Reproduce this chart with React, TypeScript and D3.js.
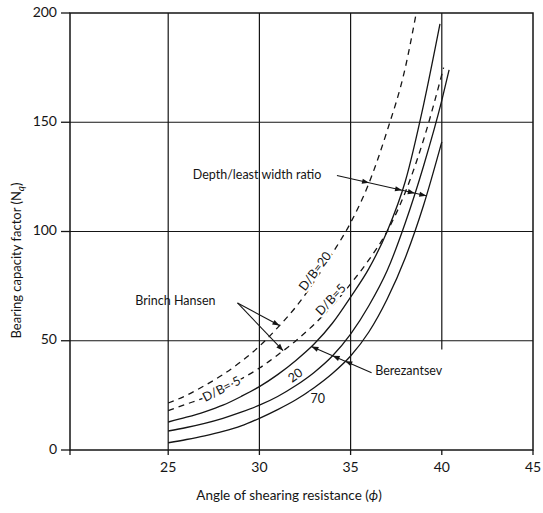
import React from 'react';
import * as d3 from 'd3';

const W = 543;
const H = 513;
const FONT = 'Lato, "Open Sans", "DejaVu Sans", sans-serif';
const INK = '#151515';

// axis ticks
const xTicks = [25, 30, 35, 40, 45];
const yTicks = [0, 50, 100, 150, 200];
const xGrid = [25, 30, 35, 40];
const xGridFrom = [0, 0, 0, 46]; // the 40 line stops short in the original
const yGrid = [50, 100, 150];

// Brinch Hansen (dashed)
const phiBH20 = [25, 26, 27, 28, 29, 30, 31, 32, 33, 34, 35, 36, 37, 38, 38.6];
const nqBH20 = [21.5, 25, 29.5, 34.5, 40.5, 47.5, 56, 65.5, 77, 90, 104, 122, 146, 175, 200];
const phiBH5 = [25, 26, 27, 28, 29, 30, 31, 32, 33, 34, 35, 36, 37, 38, 39, 40.1];
const nqBH5 = [18, 21, 24, 28, 32.5, 37.5, 43.5, 50, 57.5, 66, 76, 87, 100, 118, 142, 175];

// Berezantsev (solid)
const phiB5 = [25, 26, 27, 28, 29, 30, 31, 32, 33, 34, 35, 36, 37, 38, 39, 39.9];
const nqB5 = [12.8, 15, 17.5, 20.5, 24.5, 29, 34.5, 41, 48.5, 58, 70, 83, 100, 123, 158, 195];
const phiB20 = [25, 26, 27, 28, 29, 30, 31, 32, 33, 34, 35, 36, 37, 38, 39, 40, 40.4];
const nqB20 = [8.7, 10.3, 12.2, 14.5, 17.3, 20.5, 24.5, 29.5, 35.5, 43, 53, 66, 82, 104, 130, 160, 174];
const phiB70 = [25, 26, 27, 28, 29, 30, 31, 32, 33, 34, 35, 36, 37, 38, 39, 40];
const nqB70 = [3.3, 4.8, 6.5, 8.5, 11, 14.5, 18.5, 23, 28.5, 35, 43, 54, 69, 88, 112, 141];

const curves = {
  bh20: { xs: phiBH20, ys: nqBH20, dashed: true },
  bh5: { xs: phiBH5, ys: nqBH5, dashed: true },
  b5: { xs: phiB5, ys: nqB5, dashed: false },
  b20: { xs: phiB20, ys: nqB20, dashed: false },
  b70: { xs: phiB70, ys: nqB70, dashed: false },
};

const frameLeft = 70;
const x = d3.scaleLinear().domain([20, 45]).range([77, 533]);
const y = d3.scaleLinear().domain([0, 200]).range([450, 13]);

function valueAt(xs: number[], ys: number[], v: number) {
  if (v < xs[0] || v > xs[xs.length - 1]) return null;
  for (let i = 1; i < xs.length; i++) {
    if (v <= xs[i]) {
      const t = (v - xs[i - 1]) / (xs[i] - xs[i - 1]);
      return ys[i - 1] + t * (ys[i] - ys[i - 1]);
    }
  }
  return null;
}

// where the straight leader from a to b crosses a curve (pixel coords)
function crossing(a: number[], b: number[], c: { xs: number[]; ys: number[] }) {
  const n = 400;
  let prev: number | null = null;
  let prevT = 0;
  for (let i = 0; i <= n; i++) {
    const t = i / n;
    const px = a[0] + t * (b[0] - a[0]);
    const pv = a[1] + t * (b[1] - a[1]);
    const cv = valueAt(c.xs, c.ys, px);
    if (cv == null) { prev = null; continue; }
    const f = pv - cv;
    if (prev != null && Math.sign(f) !== Math.sign(prev)) {
      const tt = prevT + (t - prevT) * (prev / (prev - f));
      return [x(a[0] + tt * (b[0] - a[0])), y(a[1] + tt * (b[1] - a[1]))];
    }
    prev = f;
    prevT = t;
  }
  return null;
}

const Arrowhead = ({ tip, from }: { tip: number[]; from: number[] }) => {
  const ang = Math.atan2(tip[1] - from[1], tip[0] - from[0]);
  const len = 7, half = 2.6;
  const bx = tip[0] - len * Math.cos(ang);
  const by = tip[1] - len * Math.sin(ang);
  const px = -Math.sin(ang) * half;
  const py = Math.cos(ang) * half;
  return (
    <path
      d={`M${tip[0]},${tip[1]}L${bx + px},${by + py}L${bx - px},${by - py}Z`}
      fill={INK}
    />
  );
};

// leader with arrowheads on each curve it crosses
const Leader = ({ start, toward, hits }: { start: number[]; toward: number[]; hits: any[] }) => {
  const s = [x(start[0]), y(start[1])];
  const pts = hits.map(c => crossing(start, toward, c)).filter(Boolean) as number[][];
  const last = pts.reduce(
    (m, p) => (Math.hypot(p[0] - s[0], p[1] - s[1]) > Math.hypot(m[0] - s[0], m[1] - s[1]) ? p : m),
    s
  );
  return (
    <g>
      <line x1={s[0]} y1={s[1]} x2={last[0]} y2={last[1]} stroke={INK} strokeWidth={1.1} />
      {pts.map((p, i) => <Arrowhead key={i} tip={p} from={s} />)}
    </g>
  );
};

const Pointer = ({ start, tipX, curve }: { start: number[]; tipX: number; curve: any }) => {
  const s = [x(start[0]), y(start[1])];
  const tip = [x(tipX), y(valueAt(curve.xs, curve.ys, tipX) as number)];
  return (
    <g>
      <line x1={s[0]} y1={s[1]} x2={tip[0]} y2={tip[1]} stroke={INK} strokeWidth={1.1} />
      <Arrowhead tip={tip} from={s} />
    </g>
  );
};

// labels sit on the lines, knocking them out like the printed figure
const CurveLabel = ({ at, rot, text }: { at: number[]; rot: number; text: string }) => (
  <text
    transform={`translate(${x(at[0])},${y(at[1])}) rotate(${rot})`}
    textAnchor="middle"
    dominantBaseline="middle"
    fontSize={12.5}
    fill={INK}
    stroke="#fff"
    strokeWidth={4}
    strokeLinejoin="round"
    style={{ paintOrder: 'stroke' }}
  >
    {text}
  </text>
);

export default function App() {
  return (
    <svg
      width={W}
      height={H}
      style={{ position: 'fixed', left: 0, top: 0, background: '#fff' }}
      fontFamily={FONT}
    >
      <rect width={W} height={H} fill="#fff" />

      {/* grid */}
      {yGrid.map(v => (
        <line key={'h' + v} x1={frameLeft} x2={x(45)} y1={y(v)} y2={y(v)} stroke={INK} strokeWidth={1.2} />
      ))}
      {xGrid.map((v, i) => (
        <line key={'v' + v} x1={x(v)} x2={x(v)} y1={y(200)} y2={y(xGridFrom[i])} stroke={INK} strokeWidth={1.2} />
      ))}

      {/* frame */}
      <rect x={frameLeft} y={y(200)} width={x(45) - frameLeft} height={y(0) - y(200)} fill="none" stroke={INK} strokeWidth={1.5} />

      {/* ticks */}
      {yTicks.map(v => (
        <g key={'yt' + v}>
          <line x1={frameLeft - 9} x2={frameLeft} y1={y(v)} y2={y(v)} stroke={INK} strokeWidth={1.3} />
          <text x={frameLeft - 13} y={y(v)} textAnchor="end" dominantBaseline="middle" fontSize={14} fill={INK}>
            {v}
          </text>
        </g>
      ))}
      <line x1={frameLeft} x2={frameLeft} y1={y(0)} y2={y(0) + 5} stroke={INK} strokeWidth={1.3} />
      {xTicks.map(v => (
        <g key={'xt' + v}>
          <line x1={x(v)} x2={x(v)} y1={y(0)} y2={y(0) + 5} stroke={INK} strokeWidth={1.3} />
          <text x={x(v)} y={y(0) + 18} textAnchor="middle" dominantBaseline="middle" fontSize={14} fill={INK}>
            {v}
          </text>
        </g>
      ))}

      {/* curves */}
      {Object.entries(curves).map(([k, c]) => {
        const pts = c.xs.map((v, i) => [x(v), y(c.ys[i])] as [number, number]);
        const path = d3.line().curve(d3.curveMonotoneX)(pts) as string;
        return (
          <path
            key={k}
            d={path}
            fill="none"
            stroke={INK}
            strokeWidth={1.3}
            strokeDasharray={c.dashed ? '6,5' : undefined}
          />
        );
      })}

      {/* curve labels */}
      <CurveLabel at={[33.1, 81.5]} rot={-53} text="D/B=20" />
      <CurveLabel at={[33.95, 68.5]} rot={-47} text="D/B=5" />
      <CurveLabel at={[27.95, 27.5]} rot={-27} text="D/B= 5" />
      <CurveLabel at={[32.0, 33.8]} rot={-36} text="20" />
      <CurveLabel at={[33.2, 23]} rot={0} text="70" />

      {/* annotations */}
      <text x={x(26.35)} y={y(125.4)} dominantBaseline="middle" fontSize={12.5} fill={INK}>
        Depth/least width ratio
      </text>
      <Leader start={[34.25, 125.6]} toward={[39.6, 115.5]} hits={[curves.bh20, curves.b5, curves.b20, curves.b70]} />

      <text x={x(23.2)} y={y(67.7)} dominantBaseline="middle" fontSize={12.5} fill={INK}>
        Brinch Hansen
      </text>
      <Pointer start={[28.8, 67.3]} tipX={31.1} curve={curves.bh20} />
      <Pointer start={[28.8, 67.3]} tipX={31.3} curve={curves.bh5} />

      <text x={x(36.35)} y={y(35.6)} dominantBaseline="middle" fontSize={12.5} fill={INK}>
        Berezantsev
      </text>
      <Leader start={[36.15, 35.4]} toward={[31.8, 51.2]} hits={[curves.b70, curves.b20, curves.b5]} />

      {/* axis titles */}
      <text x={289} y={497} textAnchor="middle" dominantBaseline="middle" fontSize={13.5} fill={INK}>
        Angle of shearing resistance (<tspan fontStyle="italic">ϕ</tspan>)
      </text>
      <text
        transform={`translate(18,${(y(0) + y(200)) / 2 + 29}) rotate(-90)`}
        textAnchor="middle"
        dominantBaseline="middle"
        fontSize={13}
        fill={INK}
      >
        Bearing capacity factor (N<tspan fontStyle="italic" fontSize={10} dy={3}>q</tspan><tspan dy={-3}>)</tspan>
      </text>
    </svg>
  );
}
